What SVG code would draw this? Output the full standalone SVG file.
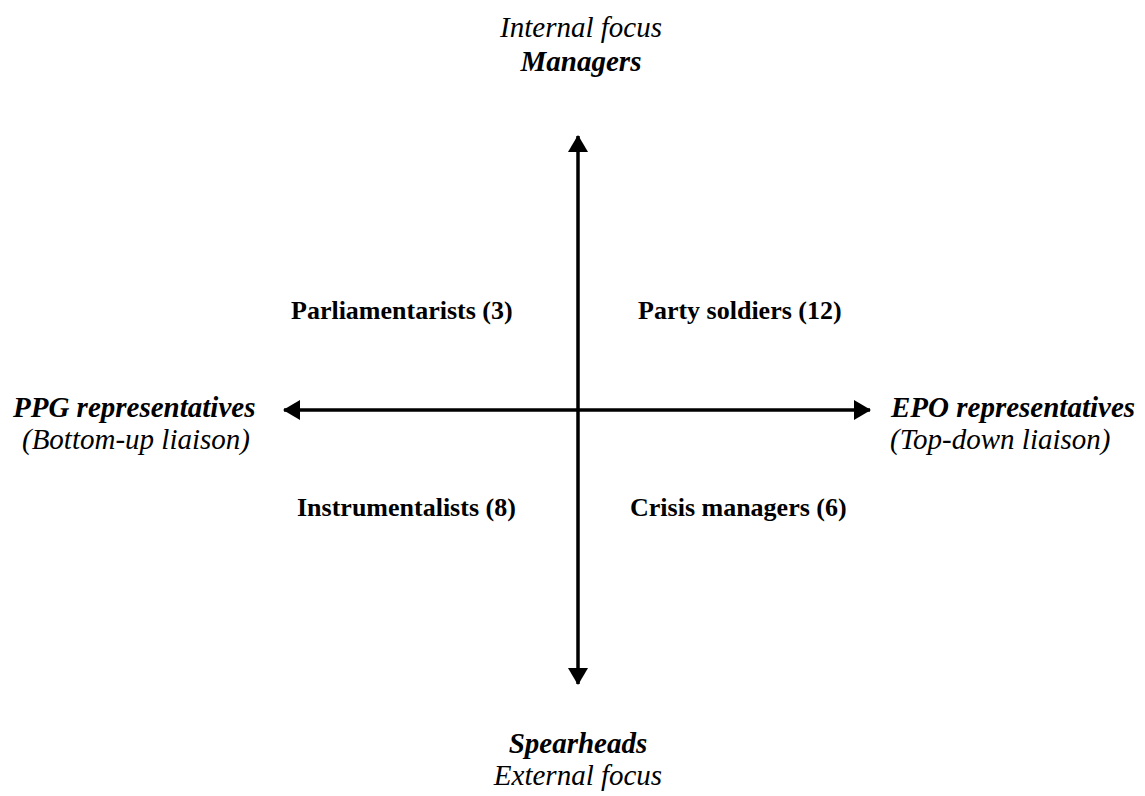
<svg xmlns="http://www.w3.org/2000/svg" width="1145" height="796" viewBox="0 0 1145 796">
<style>
text{font-family:"Liberation Serif","Times New Roman",serif;font-size:29px;fill:#000}
.i{font-style:italic}
.b{font-weight:bold;font-size:26px}
.bi{font-weight:bold;font-style:italic}
.ax{stroke:#000;stroke-width:3.5;fill:none}
</style>
<defs>
<marker id="ah" viewBox="0 0 17 20" refX="16" refY="10" markerWidth="17" markerHeight="20" markerUnits="userSpaceOnUse" orient="auto-start-reverse">
<path d="M0,0 L17,10 L0,20 Z" fill="#000"/>
</marker>
</defs>
<rect width="1145" height="796" fill="#fff"/>
<g id="connectors">
<line class="ax" x1="578" y1="136" x2="578" y2="684" marker-start="url(#ah)" marker-end="url(#ah)"/>
<line class="ax" x1="284" y1="410" x2="870" y2="410" marker-start="url(#ah)" marker-end="url(#ah)"/>
</g>
<g id="top-label"><text x="581" y="37" text-anchor="middle" class="i">Internal focus</text><text x="581" y="71" text-anchor="middle" class="bi">Managers</text></g>
<g id="bottom-label"><text x="578" y="753" text-anchor="middle" class="bi">Spearheads</text><text x="578" y="785" text-anchor="middle" class="i">External focus</text></g>
<g id="left-label"><text x="13" y="417" class="bi">PPG representatives</text><text x="22" y="449" class="i">(Bottom-up liaison)</text></g>
<g id="right-label"><text x="891" y="417" class="bi">EPO representatives</text><text x="890" y="449" class="i">(Top-down liaison)</text></g>
<g id="q1"><text x="291" y="319" class="b">Parliamentarists (3)</text></g>
<g id="q2"><text x="638" y="319" class="b">Party soldiers (12)</text></g>
<g id="q3"><text x="297" y="516" class="b">Instrumentalists (8)</text></g>
<g id="q4"><text x="630" y="516" class="b">Crisis managers (6)</text></g>
</svg>
